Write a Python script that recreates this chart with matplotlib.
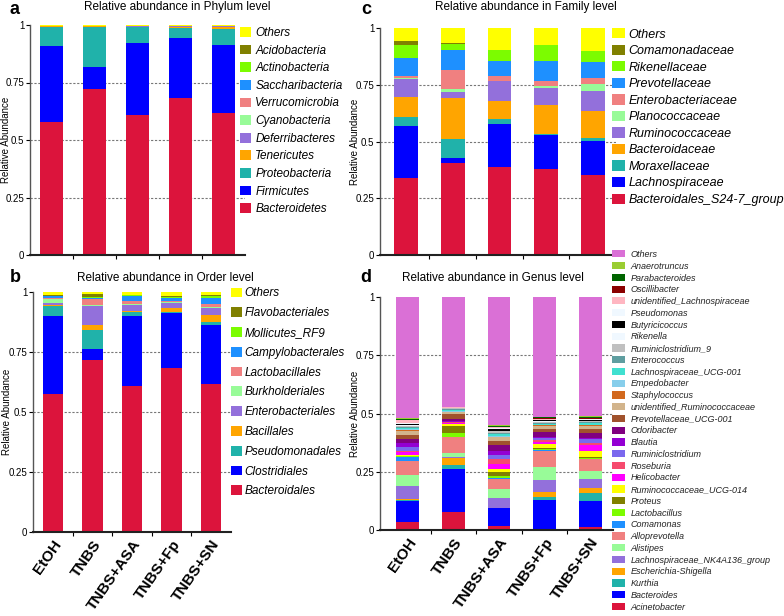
import matplotlib
matplotlib.use("Agg")
import matplotlib.pyplot as plt
import numpy as np

plt.rcParams['font.family'] = ['Liberation Sans', 'DejaVu Sans']

groups = ["EtOH", "TNBS", "TNBS+ASA", "TNBS+Fp", "TNBS+SN"]

# ---------------- Phylum (bottom -> top) ----------------
phylum_names = ["Bacteroidetes", "Firmicutes", "Proteobacteria", "Tenericutes",
                "Deferribacteres", "Cyanobacteria", "Verrucomicrobia",
                "Saccharibacteria", "Actinobacteria", "Acidobacteria", "Others"]
phylum_colors = ["#DC143C", "#0000FF", "#20B2AA", "#FFA500", "#9370DB", "#98FB98",
                 "#F08080", "#1E90FF", "#7CFC00", "#808000", "#FFFF00"]
phylum_values = [
    [0.577, 0.722, 0.610, 0.684, 0.617],
    [0.333, 0.095, 0.310, 0.258, 0.296],
    [0.083, 0.176, 0.070, 0.046, 0.068],
    [0.001, 0.001, 0.002, 0.002, 0.011],
    [0.001, 0.001, 0.002, 0.004, 0.002],
    [0.000, 0.000, 0.001, 0.001, 0.001],
    [0.000, 0.000, 0.000, 0.000, 0.000],
    [0.000, 0.000, 0.000, 0.000, 0.000],
    [0.001, 0.001, 0.001, 0.001, 0.001],
    [0.000, 0.000, 0.000, 0.000, 0.000],
    [0.004, 0.004, 0.004, 0.004, 0.004],
]

# ---------------- Order (bottom -> top) ----------------
order_names = ["Bacteroidales", "Clostridiales", "Pseudomonadales", "Bacillales",
               "Enterobacteriales", "Burkholderiales", "Lactobacillales",
               "Campylobacterales", "Mollicutes_RF9", "Flavobacteriales", "Others"]
order_colors = ["#DC143C", "#0000FF", "#20B2AA", "#FFA500", "#9370DB", "#98FB98",
                "#F08080", "#1E90FF", "#7CFC00", "#808000", "#FFFF00"]
order_values = [
    [0.576, 0.715, 0.610, 0.683, 0.618],
    [0.324, 0.049, 0.290, 0.231, 0.245],
    [0.042, 0.079, 0.015, 0.004, 0.011],
    [0.003, 0.020, 0.007, 0.014, 0.032],
    [0.009, 0.079, 0.025, 0.022, 0.027],
    [0.018, 0.005, 0.003, 0.003, 0.004],
    [0.003, 0.022, 0.011, 0.007, 0.012],
    [0.008, 0.007, 0.022, 0.012, 0.027],
    [0.002, 0.005, 0.003, 0.005, 0.009],
    [0.001, 0.009, 0.001, 0.001, 0.001],
    [0.014, 0.010, 0.013, 0.018, 0.014],
]

# ---------------- Family (bottom -> top) ----------------
family_names = ["Bacteroidales_S24-7_group", "Lachnospiraceae", "Moraxellaceae",
                "Bacteroidaceae", "Ruminococcaceae", "Planococcaceae",
                "Enterobacteriaceae", "Prevotellaceae", "Rikenellaceae",
                "Comamonadaceae", "Others"]
family_colors = ["#DC143C", "#0000FF", "#20B2AA", "#FFA500", "#9370DB", "#98FB98",
                 "#F08080", "#1E90FF", "#7CFC00", "#808000", "#FFFF00"]
family_values = [
    [0.339, 0.405, 0.389, 0.380, 0.353],
    [0.230, 0.022, 0.189, 0.148, 0.150],
    [0.038, 0.082, 0.019, 0.006, 0.013],
    [0.088, 0.183, 0.080, 0.126, 0.119],
    [0.082, 0.024, 0.088, 0.075, 0.086],
    [0.002, 0.017, 0.001, 0.011, 0.031],
    [0.010, 0.084, 0.023, 0.022, 0.027],
    [0.079, 0.086, 0.064, 0.088, 0.070],
    [0.056, 0.028, 0.050, 0.068, 0.048],
    [0.017, 0.002, 0.001, 0.001, 0.001],
    [0.059, 0.067, 0.096, 0.075, 0.102],
]

# ---------------- Genus (bottom -> top) ----------------
genus_names = ["Acinetobacter", "Bacteroides", "Kurthia", "Escherichia-Shigella",
               "Lachnospiraceae_NK4A136_group", "Alistipes", "Alloprevotella",
               "Comamonas", "Lactobacillus", "Proteus", "Ruminococcaceae_UCG-014",
               "Helicobacter", "Roseburia", "Ruminiclostridium", "Blautia",
               "Odoribacter", "Prevotellaceae_UCG-001", "unidentified_Ruminococcaceae",
               "Staphylococcus", "Empedobacter", "Lachnospiraceae_UCG-001",
               "Enterococcus", "Ruminiclostridium_9", "Rikenella", "Butyricicoccus",
               "Pseudomonas", "unidentified_Lachnospiraceae", "Oscillibacter",
               "Parabacteroides", "Anaerotruncus", "Others"]
genus_colors = ["#DC143C", "#0000FF", "#20B2AA", "#FFA500", "#9370DB", "#98FB98",
                "#F08080", "#1E90FF", "#7CFC00", "#808000", "#FFFF00", "#FF00FF",
                "#F64A6E", "#7B68EE", "#9400D3", "#800080", "#A0522D", "#D2B48C",
                "#D2691E", "#87CEEB", "#40E0D0", "#5F9EA0", "#C0C0C0", "#F0F8FF",
                "#000000", "#F0F8FF", "#FFB6C1", "#8B0000", "#006400", "#9ACD32",
                "#DA70D6"]
genus_values = [
    [0.036, 0.079, 0.019, 0.002, 0.012],
    [0.089, 0.184, 0.074, 0.127, 0.114],
    [0.002, 0.015, 0.001, 0.011, 0.032],
    [0.007, 0.030, 0.002, 0.025, 0.024],
    [0.056, 0.004, 0.040, 0.050, 0.036],
    [0.046, 0.020, 0.039, 0.054, 0.036],
    [0.061, 0.066, 0.045, 0.072, 0.050],
    [0.018, 0.002, 0.002, 0.002, 0.002],
    [0.003, 0.018, 0.011, 0.006, 0.004],
    [0.001, 0.029, 0.015, 0.003, 0.002],
    [0.003, 0.008, 0.014, 0.015, 0.026],
    [0.012, 0.005, 0.022, 0.011, 0.026],
    [0.006, 0.002, 0.020, 0.007, 0.008],
    [0.018, 0.002, 0.020, 0.008, 0.018],
    [0.017, 0.004, 0.013, 0.007, 0.004],
    [0.015, 0.008, 0.028, 0.021, 0.021],
    [0.017, 0.021, 0.017, 0.013, 0.019],
    [0.020, 0.008, 0.016, 0.014, 0.014],
    [0.002, 0.001, 0.002, 0.001, 0.001],
    [0.003, 0.005, 0.004, 0.003, 0.003],
    [0.005, 0.005, 0.009, 0.005, 0.006],
    [0.004, 0.003, 0.003, 0.003, 0.004],
    [0.007, 0.003, 0.007, 0.005, 0.005],
    [0.003, 0.001, 0.004, 0.002, 0.002],
    [0.004, 0.001, 0.006, 0.003, 0.003],
    [0.005, 0.001, 0.003, 0.002, 0.003],
    [0.010, 0.001, 0.004, 0.004, 0.003],
    [0.004, 0.001, 0.004, 0.004, 0.004],
    [0.003, 0.001, 0.003, 0.003, 0.004],
    [0.002, 0.001, 0.003, 0.002, 0.003],
    [0.521, 0.471, 0.550, 0.515, 0.511],
]

W, H = 784, 616
fig = plt.figure(figsize=(W / 100, H / 100), dpi=100)


def px_axes(left, top, right, bottom):
    return fig.add_axes([left / W, 1 - bottom / H, (right - left) / W, (bottom - top) / H])


def draw_panel(ax, names, colors, values, width, xlim, show_xlabels, ylabel_x_px, left_px, right_px):
    x = np.arange(len(groups))
    bottom = np.zeros(len(groups))
    handles = []
    for name, col, vals in zip(names, colors, values):
        vals = np.array(vals)
        b = ax.bar(x, vals, width, bottom=bottom, color=col, label=name,
                   edgecolor='none', zorder=2)
        handles.append(b)
        bottom += vals
    ax.set_xlim(*xlim)
    ax.set_ylim(0, 1)
    for yv in (0.25, 0.5, 0.75):
        ax.axhline(yv, color='#777777', lw=0.8, ls=(0, (2, 1.5)), zorder=1)
    ax.set_yticks([0, 0.25, 0.5, 0.75, 1])
    ax.set_yticklabels(["0", "0.25", "0.5", "0.75", "1"], fontsize=7)
    ax.tick_params(axis='y', length=3, width=0.8, pad=1)
    ax.set_xticks(np.arange(len(groups) - 1) + 0.5, minor=True)
    ax.set_xticks(x)
    ax.tick_params(axis='x', which='minor', length=3, width=0.8)
    ax.tick_params(axis='x', which='major', length=0)
    if show_xlabels:
        ax.set_xticklabels(groups, rotation=55, ha='right', rotation_mode='anchor',
                           fontsize=11, fontweight='bold')
        ax.tick_params(axis='x', which='major', pad=4)
    else:
        ax.set_xticklabels([])
    for s in ('top', 'right'):
        ax.spines[s].set_visible(False)
    ax.spines['left'].set_linewidth(1.0)
    ax.spines['left'].set_color('#555555')
    ax.spines['bottom'].set_linewidth(1.5)
    ax.spines['bottom'].set_color('#222222')
    ax.set_ylabel("Relative Abundance", fontsize=7)
    ax.yaxis.set_label_coords((ylabel_x_px - left_px) / (right_px - left_px), 0.5)
    return handles


ax_a = px_axes(30, 25, 245, 255)
h_a = draw_panel(ax_a, phylum_names, phylum_colors, phylum_values, 0.53, (-0.5, 4.5), False, 11.5, 30, 245)
ax_b = px_axes(33, 292, 231, 532)
h_b = draw_panel(ax_b, order_names, order_colors, order_values, 0.52, (-0.5, 4.5), True, 11.5, 33, 231)
ax_c = px_axes(380, 28, 616, 255)
h_c = draw_panel(ax_c, family_names, family_colors, family_values, 0.51, (-0.56, 4.5), False, 360, 380, 616)
ax_d = px_axes(380, 297, 613, 530)
h_d = draw_panel(ax_d, genus_names, genus_colors, genus_values, 0.50, (-0.61, 4.5), True, 360, 380, 613)


def add_legend(handles, x, y, fs, spacing, hl, hh, pad, color='black'):
    leg = fig.legend(handles[::-1], [h.get_label() for h in handles[::-1]],
                     loc='upper left', bbox_to_anchor=(x / W, 1 - y / H),
                     frameon=False, borderpad=0, borderaxespad=0,
                     handlelength=hl, handleheight=hh, handletextpad=pad,
                     labelspacing=spacing, prop={'size': fs, 'style': 'italic'})
    for t in leg.get_texts():
        t.set_color(color)
    return leg


add_legend(h_a, 240, 27, 8.5, 0.476, 0.95, 0.9, 0.35)
add_legend(h_b, 231, 287.5, 8.5, 0.66, 0.95, 0.9, 0.2)
add_legend(h_c, 612, 28, 9, 0.324, 1.0, 0.9, 0.3)
add_legend(h_d, 612, 250, 6.5, 0.305, 1.45, 0.85, 0.6, color='#222222')

# titles
fig.text(177 / W, 1 - 7 / H, "Relative abundance in Phylum level", ha='center', va='center', fontsize=8.5)
fig.text(165 / W, 1 - 278 / H, "Relative abundance in Order level", ha='center', va='center', fontsize=8.5)
fig.text(526 / W, 1 - 7 / H, "Relative abundance in Family level", ha='center', va='center', fontsize=8.5)
fig.text(493 / W, 1 - 278 / H, "Relative abundance in Genus level", ha='center', va='center', fontsize=8.5)

# panel letters
for lab, (lx, ly) in {"a": (14, 9), "b": (15, 278), "c": (366, 9), "d": (366, 278)}.items():
    fig.text(lx / W, 1 - ly / H, lab, ha='center', va='center', fontsize=13, fontweight='bold')

fig.savefig("out.png", dpi=100)
